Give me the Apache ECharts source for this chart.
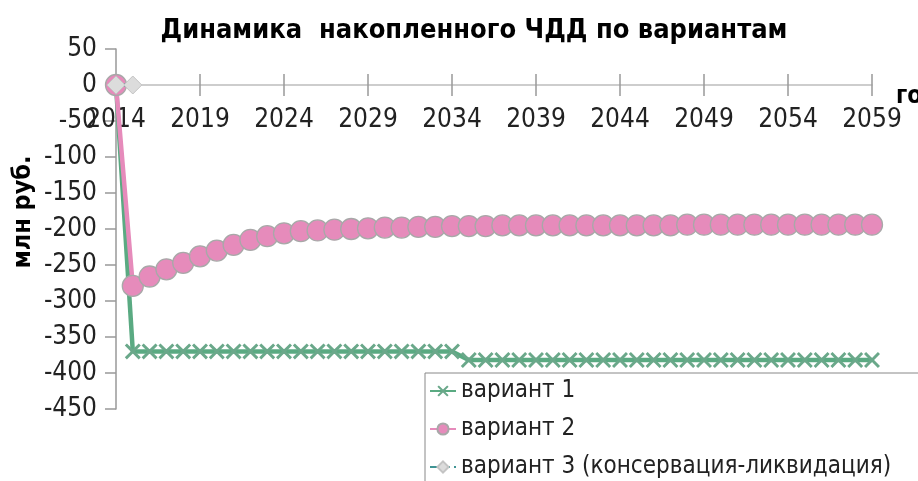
<!DOCTYPE html>
<html>
<head>
<meta charset="utf-8">
<script src="https://cdn.jsdelivr.net/npm/echarts@6/dist/echarts.min.js"></script>
<style>html,body{margin:0;padding:0;background:#fff}#c{width:918px;height:481px}</style>
</head>
<body>
<div id="c"></div>
<script>
var years = ['2014','2015','2016','2017','2018','2019','2020','2021','2022','2023','2024','2025','2026','2027','2028','2029','2030','2031','2032','2033','2034','2035','2036','2037','2038','2039','2040','2041','2042','2043','2044','2045','2046','2047','2048','2049','2050','2051','2052','2053','2054','2055','2056','2057','2058','2059'];
var variant1 = [0,-370,-370,-370,-370,-370,-370,-370,-370,-370,-370,-370,-370,-370,-370,-370,-370,-370,-370,-370,-370,-382,-382,-382,-382,-382,-382,-382,-382,-382,-382,-382,-382,-382,-382,-382,-382,-382,-382,-382,-382,-382,-382,-382,-382,-382];
var variant2 = [0,-279,-266,-256,-247,-238,-230,-222,-215,-210,-206,-203,-202,-201,-200,-199,-198,-198,-197,-197,-196,-196,-196,-195,-195,-195,-195,-195,-195,-195,-195,-195,-195,-195,-194,-194,-194,-194,-194,-194,-194,-194,-194,-194,-194,-194];
var variant3 = [0,0];
var seriesNames = ['вариант 1','вариант 2','вариант 3 (консервация-ликвидация)'];
var yTicks = {min:-450, max:50, interval:50};

var FONT = "'DejaVu Sans Condensed','Liberation Sans',sans-serif";
var xSym = 'path://M0,1.3 L1.3,0 L5,3.7 L8.7,0 L10,1.3 L6.3,5 L10,8.7 L8.7,10 L5,6.3 L1.3,10 L0,8.7 L3.7,5 Z';

var chart = echarts.init(document.getElementById('c'), null, {renderer:'canvas'});
chart.setOption({
  backgroundColor:'#fff',
  animation:false,
  title:{
    text:'Динамика  накопленного ЧДД по вариантам',
    left:469, textAlign:'center', top:12,
    textStyle:{fontFamily:FONT, fontWeight:'bold', fontSize:27, color:'#000'}
  },
  legend:{
    orient:'vertical', left:425, top:373, height:200,
    padding:[6,60,6,4], itemGap:14, itemWidth:26, itemHeight:14,
    backgroundColor:'#fff', borderColor:'#888', borderWidth:1,
    textStyle:{fontFamily:FONT, fontSize:24, color:'#222', lineHeight:24},
    data:seriesNames
  },
  grid:{left:116, right:46, top:49, bottom:72, outerBoundsMode:'none', containLabel:false},
  xAxis:[{
    type:'category', data:years, boundaryGap:false, position:'bottom', offset:-324,
    name:'годы', nameLocation:'end', nameGap:24, nameMoveOverlap:false,
    nameTextStyle:{fontFamily:FONT, fontWeight:'bold', fontSize:24, color:'#000', verticalAlign:'top', padding:[0,0,0,0]},
    axisLine:{onZero:false, lineStyle:{color:'#bdbdbd', width:1.5}},
    axisTick:{show:true, interval:4, length:11, lineStyle:{color:'#999', width:1.5}},
    axisLabel:{interval:4, margin:22, fontFamily:FONT, fontSize:26, color:'#222'},
    splitLine:{show:false}
  },{
    type:'category', data:years, boundaryGap:false, position:'top', offset:-36,
    axisLine:{onZero:false, show:false},
    axisTick:{show:true, interval:4, length:11, lineStyle:{color:'#999', width:1.5}},
    axisLabel:{show:false}, splitLine:{show:false}
  }],
  yAxis:{
    type:'value', min:yTicks.min, max:yTicks.max, interval:yTicks.interval,
    name:'млн руб.', nameLocation:'middle', nameGap:80, nameRotate:90, nameMoveOverlap:false,
    nameTextStyle:{fontFamily:FONT, fontWeight:'bold', fontSize:25, color:'#000', padding:[0,0,0,34]},
    axisLine:{show:true, onZero:false, lineStyle:{color:'#999', width:1.5}},
    axisTick:{show:true, length:11, lineStyle:{color:'#999', width:1.5}},
    axisLabel:{margin:19, fontFamily:FONT, fontSize:26, color:'#222'},
    splitLine:{show:false}
  },
  series:[{
    name:seriesNames[0], type:'line', data:variant1, z:2, xAxisIndex:0,
    symbol:xSym, symbolSize:16, showAllSymbol:true,
    lineStyle:{color:'#5aaa82', width:4.5},
    itemStyle:{color:'#6aa88a', borderWidth:0}
  },{
    name:seriesNames[1], type:'line', data:variant2, z:3, xAxisIndex:0,
    symbol:'circle', symbolSize:21, showAllSymbol:true,
    lineStyle:{color:'#e68bbb', width:4.5},
    itemStyle:{color:'#e68bbb', borderColor:'#a8a8a8', borderWidth:1.3}
  },{
    name:seriesNames[2], type:'line', data:variant3, z:4, xAxisIndex:0,
    symbol:'diamond', symbolSize:18, showAllSymbol:true,
    lineStyle:{color:'#3f9494', width:3, type:'dashed'},
    itemStyle:{color:'#dcdcdc', borderColor:'#c4c4c4', borderWidth:1}
  }]
});
</script>
</body>
</html>
